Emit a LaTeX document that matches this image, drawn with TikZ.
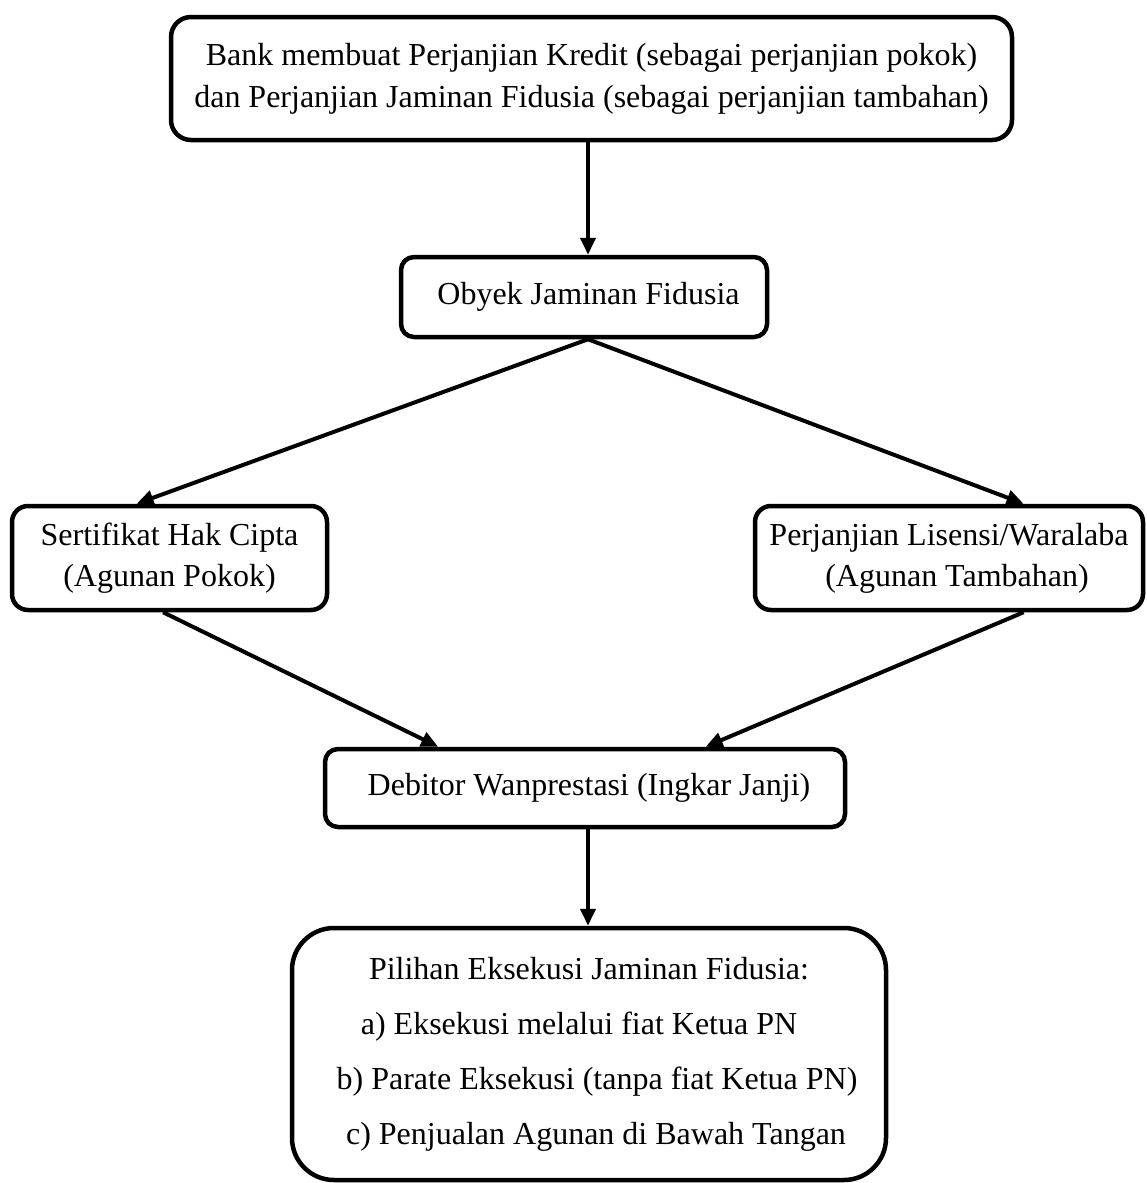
\documentclass[tikz,border=0pt]{standalone}
\usepackage{fontspec}
\setmainfont{Liberation Serif}
\usetikzlibrary{arrows.meta,calc}
\begin{document}
\begin{tikzpicture}[x=1pt,y=-1pt,
  box/.style={draw, line width=4.5pt, rounded corners=#1, inner sep=0pt, align=center, font=\fontsize{32}{42}\selectfont},
  arr/.style={line width=4pt, -{Triangle[length=17pt,width=15pt]}}]
\useasboundingbox (0,0) rectangle (1147,1183);

\node[box=20, minimum width=841pt, minimum height=123pt] (top) at (591.5,78.5)
  {Bank membuat Perjanjian Kredit (sebagai perjanjian pokok)\\dan Perjanjian Jaminan Fidusia (sebagai perjanjian tambahan)};
\node[box=13, minimum width=366pt, minimum height=80pt] (obyek) at (584,297)
  {\kern9pt Obyek Jaminan Fidusia};
\node[box=16, minimum width=315pt, minimum height=104pt, font=\fontsize{32}{41}\selectfont] (sert) at (169.5,558)
  {Sertifikat Hak Cipta\\(Agunan Pokok)};
\node[box=16, minimum width=388pt, minimum height=104pt, font=\fontsize{32}{41}\selectfont] (lis) at (949,558)
  {Perjanjian Lisensi/Waralaba\\\kern16pt(Agunan Tambahan)};
\node[box=13, minimum width=520pt, minimum height=78pt] (deb) at (585,788)
  {\kern8pt Debitor Wanprestasi (Ingkar Janji)};
\node[box=42, minimum width=594pt, minimum height=252pt, font=\fontsize{32}{55}\selectfont] (pil) at (589,1054)
  {Pilihan Eksekusi Jaminan Fidusia:\\a) Eksekusi melalui fiat Ketua PN\kern20pt\\\kern16pt b) Parate Eksekusi (tanpa fiat Ketua PN)\\\kern14pt c) Penjualan Agunan di Bawah Tangan};

\coordinate (ax) at (588,0);
\draw[arr] (top.south -| ax) -- (obyek.north -| ax);
\draw[arr] (obyek.south -| ax) -- ($(sert.north west)!0.397!(sert.north east)$);
\draw[arr] (obyek.south -| ax) -- ($(lis.north west)!0.69!(lis.north east)$);
\draw[arr] ($(sert.south west)!0.48!(sert.south east)$) -- ($(deb.north west)!0.22!(deb.north east)$);
\draw[arr] ($(lis.south west)!0.69!(lis.south east)$) -- ($(deb.north west)!0.73!(deb.north east)$);
\draw[arr] (deb.south -| ax) -- (pil.north -| ax);
\end{tikzpicture}
\end{document}
